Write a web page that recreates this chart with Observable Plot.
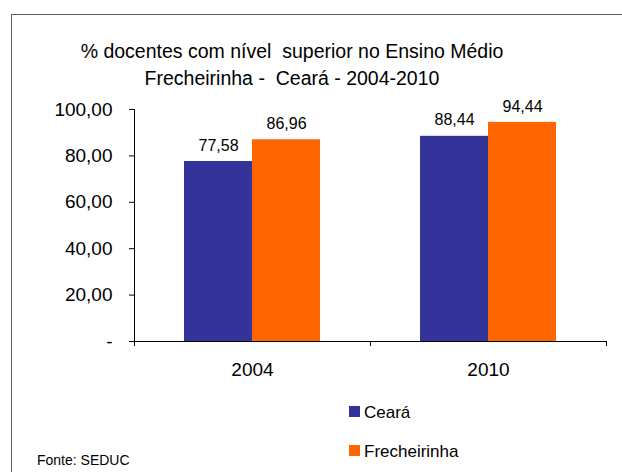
<!DOCTYPE html>
<html>
<head>
<meta charset="utf-8">
<script src="https://cdn.jsdelivr.net/npm/d3@7"></script>
<script src="https://cdn.jsdelivr.net/npm/@observablehq/plot@0.6"></script>
<style>
  html, body { margin: 0; padding: 0; background: #fff; }
  #wrap { position: relative; width: 622px; height: 472px; overflow: hidden; font-family: "Liberation Sans", Arial, sans-serif; color: #000; }
  #frame { position: absolute; left: 11px; top: 14px; width: 700px; height: 600px; border-left: 1px solid #606060; border-top: 1px solid #606060; pointer-events: none; }
  .t { position: absolute; white-space: pre; }
  #title { left: 0; width: 584px; top: 38px; text-align: center; font-size: 19.5px; line-height: 27px; }
  .sw { position: absolute; width: 11px; height: 11px; }
  .lg { font-size: 17px; line-height: 17px; left: 364px; }
  #chart { position: absolute; left: 0; top: 0; }
</style>
</head>
<body>
<div id="wrap">
  <div id="chart"></div>
  <div id="frame"></div>
  <div id="title" class="t"></div>
  <div id="legend"></div>
  <div id="source" class="t" style="left:37px; top:453px; font-size:14px; line-height:14px;"></div>
</div>
<script>
const titleLines = ["% docentes com nível  superior no Ensino Médio", "Frecheirinha -  Ceará - 2004-2010"];
const years = ["2004", "2010"];
const series = ["Ceará", "Frecheirinha"];
const cearaValues = [77.58, 88.44];
const frecheirinhaValues = [86.96, 94.44];
const yTicks = [0, 20, 40, 60, 80, 100];
const colors = ["#333399", "#FF6600"];
const sourceText = "Fonte: SEDUC";

const data = years.flatMap((yr, i) => [
  {year: yr, series: series[0], value: cearaValues[i]},
  {year: yr, series: series[1], value: frecheirinhaValues[i]}
]);

const fmt = v => v.toFixed(2).replace(".", ",");
const tickFmt = v => v === 0 ? "-" : fmt(v);

const chart = Plot.plot({
  width: 622,
  height: 472,
  marginLeft: 133,
  marginRight: 16,
  marginTop: 109,
  marginBottom: 131,
  style: {fontFamily: "'Liberation Sans', Arial, sans-serif", fontSize: "19px", color: "#000", background: "transparent", overflow: "visible"},
  fx: {domain: years, padding: 0, axis: "bottom", tickSize: 0, tickPadding: 21, label: null},
  x: {domain: series, paddingInner: 0, paddingOuter: 0.726, axis: null},
  y: {domain: [0, 100], ticks: yTicks, tickSize: 5, tickPadding: 17, tickFormat: tickFmt, label: null, line: false},
  color: {domain: series, range: colors},
  marks: [
    Plot.barY(data, {fx: "year", x: "series", y: "value", fill: "series"}),
    Plot.text(data, {fx: "year", x: "series", y: "value", text: d => fmt(d.value), dy: -16, fontSize: 16, fill: "#000"}),
    Plot.ruleY([0], {stroke: "#000"})
  ]
});
document.getElementById("chart").appendChild(chart);

// axis line and group boundary ticks, from the chart's own scales
const svg = d3.select(chart.tagName.toLowerCase() === "svg" ? chart : chart.querySelector("svg"));
const fxS = chart.scale("fx");
const yS = chart.scale("y");
const y0 = yS.apply(0), y100 = yS.apply(100);
const bounds = years.map(yr => fxS.apply(yr)).concat([fxS.apply(years[years.length - 1]) + fxS.bandwidth]);
const g = svg.append("g").attr("stroke", "#000").attr("shape-rendering", "crispEdges");
g.append("line").attr("x1", bounds[0]).attr("x2", bounds[0]).attr("y1", y100).attr("y2", y0 + 5);
bounds.slice(1).forEach(b => g.append("line").attr("x1", b).attr("x2", b).attr("y1", y0).attr("y2", y0 + 5));

document.getElementById("title").textContent = titleLines.join("\n");
document.getElementById("source").textContent = sourceText;
const legend = document.getElementById("legend");
const legendTops = [406, 445];
series.forEach((s, i) => {
  const sw = document.createElement("div");
  sw.className = "sw";
  sw.style.left = "349px";
  sw.style.top = legendTops[i] + "px";
  sw.style.background = colors[i];
  legend.appendChild(sw);
  const t = document.createElement("div");
  t.className = "t lg";
  t.style.top = (legendTops[i] - 2.5) + "px";
  t.textContent = s;
  legend.appendChild(t);
});
</script>
</body>
</html>
